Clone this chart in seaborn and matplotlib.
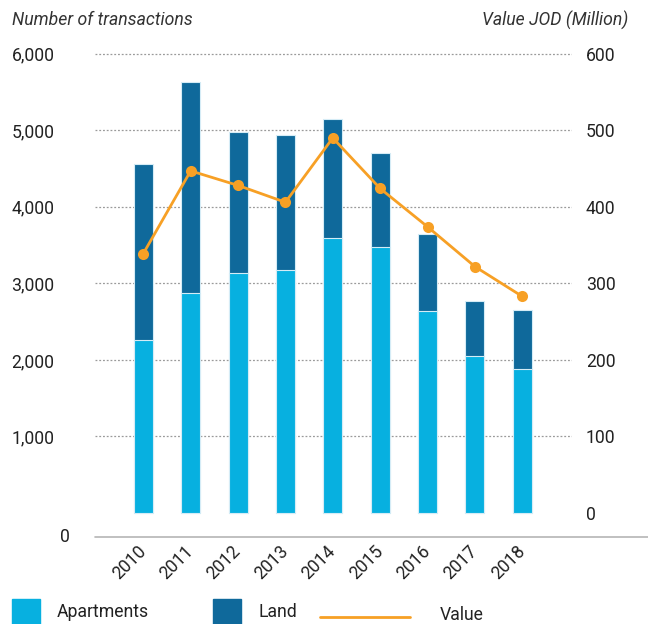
import matplotlib
matplotlib.use("Agg")
import matplotlib.pyplot as plt
import seaborn as sns
from matplotlib.patches import Rectangle
from matplotlib.lines import Line2D
from matplotlib.transforms import blended_transform_factory

# Data
years = ["2010", "2011", "2012", "2013", "2014", "2015", "2016", "2017", "2018"]
apartments = [2255, 2880, 3130, 3170, 3590, 3470, 2640, 2050, 1880]
land = [2300, 2755, 1850, 1775, 1560, 1240, 1000, 715, 770]
value_jod = [339, 447, 428, 406, 490, 424, 374, 322, 283]

left_ticks = [1000, 2000, 3000, 4000, 5000, 6000]
left_labels = ["1,000", "2,000", "3,000", "4,000", "5,000", "6,000"]
right_ticks = [0, 100, 200, 300, 400, 500, 600]

c_apt = "#07b0e0"
c_land = "#0f699b"
c_val = "#f7a025"
c_text = "#222222"
fs = 12.7

sns.set_style("white")
plt.rcParams["font.family"] = ["Roboto", "DejaVu Sans"]

totals = [a + l for a, l in zip(apartments, land)]

fig = plt.figure(figsize=(6.48, 6.24), dpi=100)
W, H = 648, 624
ax = fig.add_axes([95 / W, 1 - 537 / H, (572 - 95) / W, (537 - 53) / H])

# stacked bars: total (land) drawn first, apartments on top of it
sns.barplot(x=years, y=totals, color=c_land, width=0.4, saturation=1,
            edgecolor="#d5ecf6", linewidth=0.8, ax=ax)
sns.barplot(x=years, y=apartments, color=c_apt, width=0.4, saturation=1,
            edgecolor="#d5ecf6", linewidth=0.8, ax=ax)

ylo, yhi = -313, 6010
ax.set_ylim(ylo, yhi)
ax.set_xlim(-1.02, 9.05)
ax.set_yticks(left_ticks)
ax.set_yticklabels(left_labels)
ax.tick_params(axis="y", length=0, pad=29, labelsize=fs, labelcolor=c_text)
ax.tick_params(axis="x", length=0, pad=8, labelsize=fs, labelcolor=c_text)
plt.setp(ax.get_xticklabels(), rotation=45, ha="right", va="center",
         rotation_mode="anchor")
for y in left_ticks:
    ax.axhline(y, color="#9a9a9a", lw=0.9, ls=(0, (1.5, 1.5)), zorder=0)
for s in ax.spines.values():
    s.set_visible(False)
ax.axhline(ylo, xmin=0, xmax=(W - 95) / (572 - 95), color="#b5b5b5", lw=1.2,
           clip_on=False)
ax.text(70 / W, ylo, "0", transform=blended_transform_factory(fig.transFigure, ax.transData),
        ha="right", va="center", fontsize=fs, color=c_text)
ax.set_xlabel("")
ax.set_ylabel("")

# value line on the right axis
ax2 = ax.twinx()
sns.lineplot(x=list(range(len(years))), y=value_jod, color=c_val, lw=2,
             marker="o", markersize=8, markeredgewidth=0, ax=ax2)
ax2.set_ylim(ylo / 10, yhi / 10)
ax2.set_yticks(right_ticks)
ax2.set_yticklabels([str(t) for t in right_ticks])
ax2.tick_params(axis="y", length=0, pad=10, labelsize=fs, labelcolor=c_text)
for s in ax2.spines.values():
    s.set_visible(False)
ax2.set_ylabel("")

fig.text(12 / W, 1 - 20 / H, "Number of transactions", style="italic",
         fontsize=fs, color="#333333", va="center", ha="left")
fig.text(628 / W, 1 - 20 / H, "Value JOD (Million)", style="italic",
         fontsize=fs, color="#333333", va="center", ha="right")

# legend along the bottom
ly = 1 - 612 / H
fig.add_artist(Rectangle((12 / W, 1 - 624 / H), 28 / W, 25 / H,
                         transform=fig.transFigure, color=c_apt))
fig.text(57 / W, ly, "Apartments", fontsize=fs, color=c_text, va="center")
fig.add_artist(Rectangle((213 / W, 1 - 624 / H), 28 / W, 25 / H,
                         transform=fig.transFigure, color=c_land))
fig.text(258 / W, ly, "Land", fontsize=fs, color=c_text, va="center")
fig.add_artist(Line2D([320 / W, 410 / W], [1 - 617 / H, 1 - 617 / H],
                      transform=fig.transFigure, color=c_val, lw=2))
fig.text(440 / W, 1 - 615 / H, "Value", fontsize=fs, color=c_text, va="center")

fig.savefig("out.png", dpi=100)
